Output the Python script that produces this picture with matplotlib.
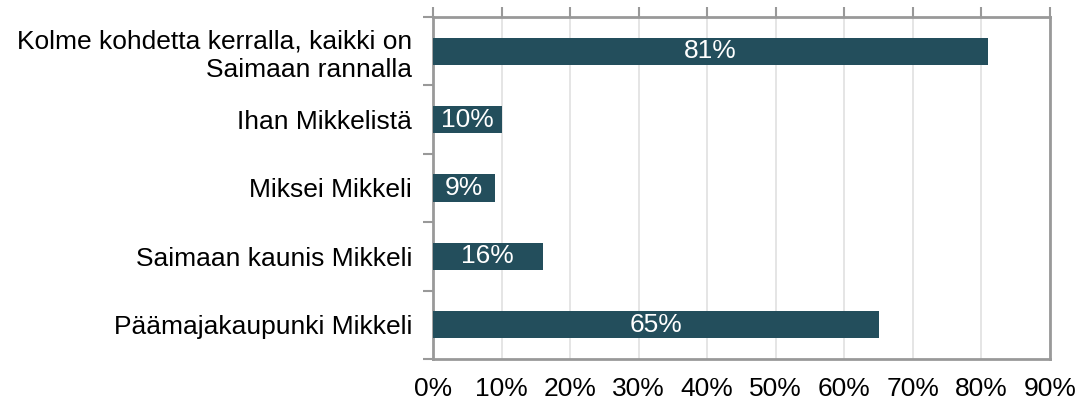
import matplotlib.pyplot as plt
import numpy as np

plt.rcParams['font.family'] = ['Liberation Sans', 'DejaVu Sans']

# Vastausvaihtoehdot alhaalta ylös
vaihtoehdot = ['Päämajakaupunki Mikkeli', 'Saimaan kaunis Mikkeli', 'Miksei Mikkeli',
               'Ihan Mikkelistä', 'Kolme kohdetta kerralla, kaikki on\nSaimaan rannalla']
osuudet = [65, 16, 9, 10, 81]
x_ticks = [0, 10, 20, 30, 40, 50, 60, 70, 80, 90]

vari = '#234e5c'
reuna = '#999999'
koko = 19

fig = plt.figure(figsize=(10.87, 4.03), dpi=100)
ax = fig.add_axes([0.3983, 0.1092, 0.5677, 0.8486])

y = np.arange(len(vaihtoehdot))
ax.barh(y, osuudet, height=0.4, color=vari, zorder=3)

for yi, v in zip(y, osuudet):
    ax.text(v / 2, yi, f'{v}%', color='white', ha='center', va='center',
            fontsize=koko, zorder=4)

ax.set_xlim(0, 90)
ax.set_ylim(-0.5, len(vaihtoehdot) - 0.5)
ax.set_xticks(x_ticks)
ax.set_xticklabels([f'{t}%' for t in x_ticks], fontsize=koko)
ax.xaxis.set_ticks_position('top')
ax.tick_params(axis='x', which='major', top=True, bottom=False, labeltop=False,
               labelbottom=True, length=7, width=1.5, color=reuna, pad=6)
ax.grid(axis='x', color='#e0e0e0', linewidth=1.2, zorder=0)

# kategorian nimet pääpisteisiin, rajaviivat sivupisteisiin
ax.set_yticks(y)
ax.set_yticklabels(vaihtoehdot, fontsize=koko, linespacing=1.25)
ax.set_yticks(np.arange(-0.5, len(vaihtoehdot)), minor=True)
ax.tick_params(axis='y', which='major', length=0, pad=15)
ax.tick_params(axis='y', which='minor', length=7, width=1.5, color=reuna)
for lbl in ax.get_yticklabels():
    lbl.set_multialignment('right')

for s in ax.spines.values():
    s.set_color(reuna)
    s.set_linewidth(2)

fig.savefig('out.png', dpi=100)
